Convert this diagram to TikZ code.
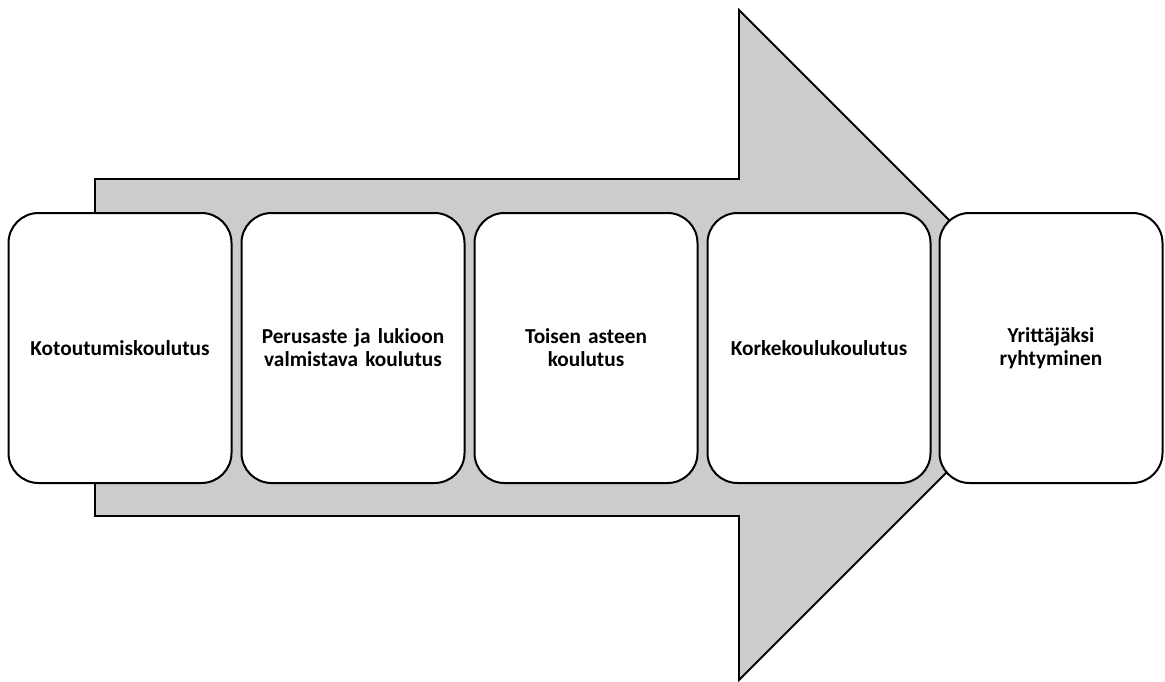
\documentclass[tikz,border=0pt]{standalone}
\usepackage{fontspec}
\setmainfont{Carlito}
\begin{document}
\begin{tikzpicture}[x=1pt,y=-1pt,
  stagebox/.style={draw=black, line width=2pt, fill=white, rounded corners=30pt,
    minimum width=223pt, minimum height=270pt, align=center, text width=210pt,
    font=\bfseries\fontsize{21.3}{23}\selectfont, inner sep=0pt},
  bigarrow/.style={draw=black, line width=1.8pt, fill=black!20, line join=miter}]
\useasboundingbox (0,0) rectangle (1165,682);
\draw[bigarrow] (95,179) -- (739,179) -- (739,10) -- (1074,345) -- (739,680) -- (739,516) -- (95,516) -- cycle;
\node[stagebox] (b1) at (120,348) {Kotoutumiskoulutus};
\node[stagebox] (b2) at (353,348) {Perusaste ja lukioon\\valmistava koulutus};
\node[stagebox] (b3) at (586,348) {Toisen asteen\\koulutus};
\node[stagebox] (b4) at (819,348) {Korkekoulukoulutus};
\node[stagebox] (b5) at (1051,348) {Yrittäjäksi\\ryhtyminen};
\end{tikzpicture}
\end{document}
